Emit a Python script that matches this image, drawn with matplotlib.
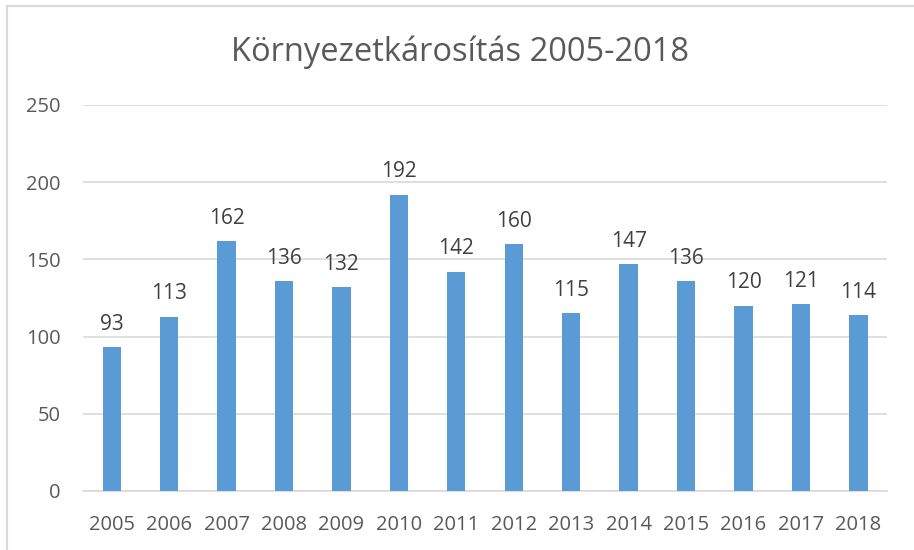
import matplotlib.pyplot as plt

plt.rcParams['font.family'] = ['Open Sans', 'DejaVu Sans']

years = ['2005', '2006', '2007', '2008', '2009', '2010', '2011',
         '2012', '2013', '2014', '2015', '2016', '2017', '2018']
values = [93, 113, 162, 136, 132, 192, 142, 160, 115, 147, 136, 120, 121, 114]

text_col = '#595959'
grid_col = '#D9D9D9'

fig = plt.figure(figsize=(9.14, 5.5), dpi=100)
ax = fig.add_axes([0.0908, 0.1073, 0.8797, 0.7018])

x = range(len(years))
bars = ax.bar(x, values, width=0.32, color='#5B9BD5', zorder=3)
for xi, v in zip(x, values):
    ax.text(xi, v + 8, str(v), ha='center', va='bottom', fontsize=15, color='#404040')

ax.set_xlim(-0.5, len(years) - 0.5)
ax.set_ylim(0, 250)
ax.set_yticks(range(0, 251, 50))
ax.set_xticks(list(x))
ax.set_xticklabels(years)
ax.yaxis.grid(True, color=grid_col, linewidth=1.2, zorder=0)
for s in ['top', 'right', 'left']:
    ax.spines[s].set_visible(False)
ax.spines['bottom'].set_color(grid_col)
ax.spines['bottom'].set_linewidth(1.2)
ax.tick_params(axis='both', length=0, labelsize=14.5, colors=text_col)
ax.tick_params(axis='x', pad=17)
ax.tick_params(axis='y', pad=16)

fig.text(0.503, 0.905, 'Környezetkárosítás 2005-2018', ha='center', va='center',
         fontsize=23.5, color=text_col)

# chart frame (only top and left visible in the crop)
fig.add_artist(plt.Line2D([0.0077, 1.0], [0.989, 0.989], color=grid_col, linewidth=1.5,
                          transform=fig.transFigure))
fig.add_artist(plt.Line2D([0.0077, 0.0077], [0.0, 0.989], color=grid_col, linewidth=1.5,
                          transform=fig.transFigure))

fig.savefig('out.png', dpi=100, facecolor='white')
